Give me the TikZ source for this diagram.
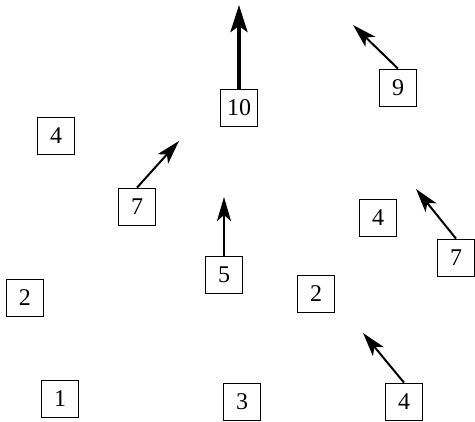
\documentclass[tikz,border=0pt]{standalone}
\usepackage{fontspec}
\setmainfont{Liberation Serif}
\usetikzlibrary{arrows.meta}
\begin{document}
\begin{tikzpicture}[x=1pt,y=-1pt,
  numbox/.style={draw,line width=1.7pt,minimum width=37pt,minimum height=37pt,inner sep=0pt,font=\fontsize{24}{27}\selectfont},
  move/.style={line width=2pt,-{Stealth[length=24pt,width=14pt,inset=6pt]}},
  bigmove/.style={line width=4pt,-{Stealth[length=27pt,width=17pt,inset=6pt]}}]
\useasboundingbox (0,0) rectangle (475,422);
\node[numbox] (b10) at (239,108) {10};
\node[numbox] (b9) at (398,88) {9};
\node[numbox] (b4a) at (56,136) {4};
\node[numbox] (b7a) at (137,207) {7};
\node[numbox] (b5) at (224,275) {5};
\node[numbox] (b4b) at (378,218) {4};
\node[numbox] (b7b) at (456,258) {7};
\node[numbox] (b2a) at (25,298) {2};
\node[numbox] (b2b) at (316,294) {2};
\node[numbox] (b1) at (60,399) {1};
\node[numbox] (b3) at (242,402) {3};
\node[numbox] (b4c) at (404,402) {4};
\coordinate (t10) at (239,5);
\coordinate (t9) at (353,25);
\coordinate (t7a) at (179,141);
\coordinate (t5) at (224,197);
\coordinate (t7b) at (416,189);
\coordinate (t4c) at (363,333);
\draw[bigmove] (b10.north) -- (t10);
\draw[move] (b9.north) -- (t9);
\draw[move] (b7a.north) -- (t7a);
\draw[move] (b5.north) -- (t5);
\draw[move] (b7b.north) -- (t7b);
\draw[move] (b4c.north) -- (t4c);
\end{tikzpicture}
\end{document}
